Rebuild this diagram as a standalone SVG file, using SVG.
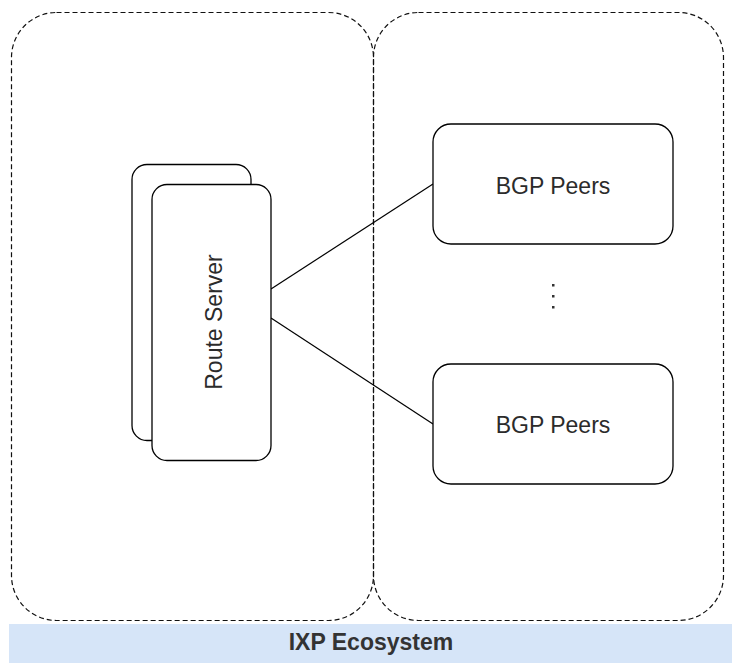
<svg xmlns="http://www.w3.org/2000/svg" width="734" height="663" viewBox="0 0 734 663">
  <style>
    .zone { fill: none; stroke: #111; stroke-width: 1.2; stroke-dasharray: 5 3; }
    .box { fill: #fff; stroke: #000; stroke-width: 1.3; }
    .label { font-family: "Liberation Sans", Arial, sans-serif; font-size: 23px; fill: #2b2b2b; text-anchor: middle; }
    .link { stroke: #000; stroke-width: 1.2; fill: none; }
  </style>
  <rect width="734" height="663" fill="#fff"/>

  <!-- two dashed zones -->
  <g id="zone-left">
    <rect class="zone" x="11.5" y="12.5" width="362" height="608" rx="45" ry="45"/>
  </g>
  <g id="zone-right">
    <rect class="zone" x="373.5" y="12.5" width="350" height="608" rx="45" ry="45"/>
  </g>

  <!-- ecosystem banner -->
  <g id="ixp-ecosystem">
    <rect x="9" y="624" width="723" height="39" fill="#d6e5f8"/>
    <text class="label" x="371" y="650" style="font-weight:bold;fill:#333">IXP Ecosystem</text>
  </g>

  <!-- connectors -->
  <g id="connectors">
    <line class="link" x1="271" y1="289" x2="433" y2="184"/>
    <line class="link" x1="271" y1="318" x2="433" y2="424"/>
  </g>

  <!-- route server stack -->
  <g id="route-server">
    <rect class="box" x="132" y="164.5" width="119" height="276" rx="15" ry="15"/>
    <rect class="box" x="152" y="184.5" width="119" height="276" rx="15" ry="15"/>
    <text class="label" transform="translate(222 322) rotate(-90)">Route Server</text>
  </g>

  <g id="bgp-peers-1">
    <rect class="box" x="433" y="124" width="240" height="120" rx="18" ry="18"/>
    <text class="label" x="553" y="194">BGP Peers</text>
  </g>

  <g id="ellipsis">
    <rect x="552" y="284" width="2.5" height="2.5" fill="#333"/>
    <rect x="552" y="295" width="2.5" height="2.5" fill="#333"/>
    <rect x="552" y="306" width="2.5" height="2.5" fill="#333"/>
  </g>

  <g id="bgp-peers-2">
    <rect class="box" x="433" y="364" width="240" height="120" rx="18" ry="18"/>
    <text class="label" x="553" y="433">BGP Peers</text>
  </g>
</svg>
